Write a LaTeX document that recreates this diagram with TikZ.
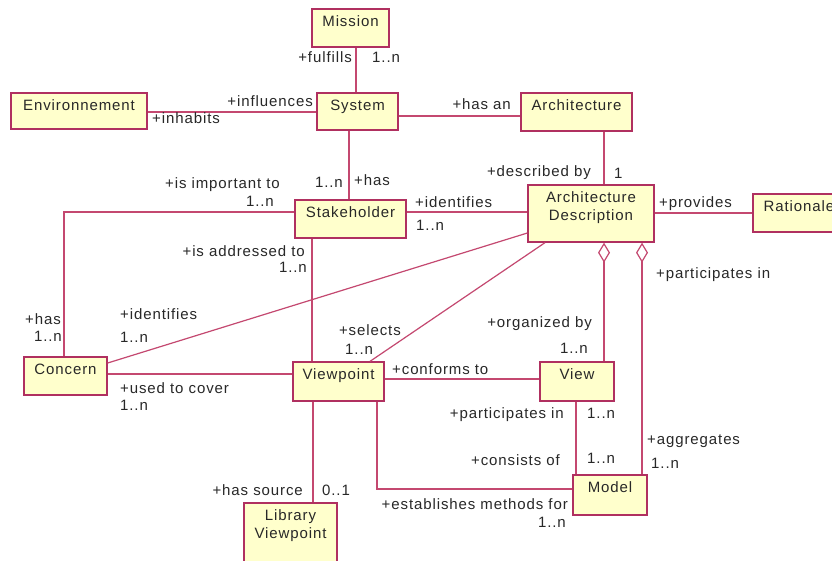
\documentclass[tikz,border=0pt]{standalone}
\usepackage{fontspec}
\setmainfont{Liberation Sans}[LetterSpace=6]
\usetikzlibrary{arrows.meta}
\definecolor{boxfill}{RGB}{255,255,204}
\definecolor{boxc}{RGB}{176,48,96}
\definecolor{linec}{RGB}{196,72,112}
\definecolor{txtc}{RGB}{40,40,40}
\begin{document}
\begin{tikzpicture}[x=1pt,y=-1pt,
  box/.style={draw=boxc, fill=boxfill, line width=1.3pt, inner sep=0pt},
  title/.style={anchor=north, inner sep=0pt, text=txtc, font=\fontsize{15}{18}\selectfont, align=center},
  lbl/.style={inner sep=0pt, text=txtc, font=\fontsize{15}{18}\selectfont, text height=11pt, text depth=3pt},
  conn/.style={draw=linec, line width=1.2pt},
  agg/.style={conn, {Diamond[open, fill=white, length=20pt, width=12pt]}-}]
\useasboundingbox (0,0) rectangle (832,560);
\clip (0,0) rectangle (832,560);
\fill[white] (0,0) rectangle (832,560);

% boxes
\node[box, minimum width=77pt, minimum height=38pt] (mission) at (350.5,28) {};
\node[box, minimum width=136pt, minimum height=36pt] (env) at (79,111) {};
\node[box, minimum width=81pt, minimum height=37pt] (system) at (357.5,111.5) {};
\node[box, minimum width=111pt, minimum height=38pt] (arch) at (576.5,112) {};
\node[box, minimum width=126pt, minimum height=57pt] (ad) at (591,213.5) {};
\node[box, minimum width=92pt, minimum height=38pt] (rat) at (799,213) {};
\node[box, minimum width=111pt, minimum height=38pt] (stake) at (350.5,219) {};
\node[box, minimum width=83pt, minimum height=38pt] (concern) at (65.5,376) {};
\node[box, minimum width=91pt, minimum height=39pt] (vp) at (338.5,381.5) {};
\node[box, minimum width=93pt, minimum height=60pt] (lib) at (290.5,533) {};
\node[box, minimum width=74pt, minimum height=39pt] (view) at (577,381.5) {};
\node[box, minimum width=74pt, minimum height=40pt] (model) at (610,495) {};

% box titles
\node[title] (missiont) at ([yshift=-7pt]mission.north) {Mission};
\node[title] (envt) at ([yshift=-7pt]env.north) {Environnement};
\node[title] (systemt) at ([yshift=-7pt]system.north) {System};
\node[title] (archt) at ([yshift=-7pt]arch.north) {Architecture};
\node[title] (adt) at ([yshift=-7pt]ad.north) {Architecture\\Description};
\node[title] (ratt) at ([yshift=-7pt]rat.north) {Rationale};
\node[title] (staket) at ([yshift=-7pt]stake.north) {Stakeholder};
\node[title] (concernt) at ([yshift=-7pt]concern.north) {Concern};
\node[title] (vpt) at ([yshift=-7pt]vp.north) {Viewpoint};
\node[title] (libt) at ([yshift=-7pt]lib.north) {Library\\Viewpoint};
\node[title] (viewt) at ([yshift=-7pt]view.north) {View};
\node[title] (modelt) at ([yshift=-7pt]model.north) {Model};

% connectors
\draw[conn] (mission.south -| 356,0) -- (system.north -| 356,0);
\draw[conn] (env.east |- 0,112) -- (system.west |- 0,112);
\draw[conn] (system.east |- 0,116) -- (arch.west |- 0,116);
\draw[conn] (system.south -| 349,0) -- (stake.north -| 349,0);
\draw[conn] (arch.south -| 604,0) -- (ad.north -| 604,0);
\draw[conn] (stake.east |- 0,212) -- (ad.west |- 0,212);
\draw[conn] (ad.east |- 0,213) -- (rat.west |- 0,213);
\draw[conn] (stake.west |- 0,212) -| (concern.north -| 64,0);
\draw[conn] (stake.south -| 312,0) -- (vp.north -| 312,0);
\draw[conn] (concern.east |- 0,363) -- (ad.west |- 0,233);
\draw[conn] (vp.north -| 370,0) -- (ad.south -| 545,0);
\draw[conn] (concern.east |- 0,374) -- (vp.west |- 0,374);
\draw[conn] (vp.east |- 0,379) -- (view.west |- 0,379);
\draw[agg] (ad.south -| 604,0) -- (view.north -| 604,0);
\draw[agg] (ad.south -| 642,0) -- (model.north -| 642,0);
\draw[conn] (view.south -| 576,0) -- (model.north -| 576,0);
\draw[conn] (vp.south -| 377,0) |- (model.west |- 0,489);
\draw[conn] (vp.south -| 313,0) -- (lib.north -| 313,0);

% labels
\node[lbl, anchor=east] (l1) at (352,58) {+fulfills};
\node[lbl, anchor=west] (l2) at (372,58) {1..n};
\node[lbl, anchor=east] (l3) at (313,102) {+influences};
\node[lbl, anchor=west] (l4) at (152,119) {+inhabits};
\node[lbl, anchor=east] (l5) at (511,105) {+has an};
\node[lbl, anchor=east] (l6) at (591,172) {+described by};
\node[lbl, anchor=west] (l7) at (614,174) {1};
\node[lbl, anchor=east] (l8) at (280,184) {+is important to};
\node[lbl, anchor=east] (l9) at (274,202) {1..n};
\node[lbl, anchor=east] (l10) at (343,183) {1..n};
\node[lbl, anchor=west] (l11) at (354,181) {+has};
\node[lbl, anchor=west] (l12) at (415,203) {+identifies};
\node[lbl, anchor=west] (l13) at (416,226) {1..n};
\node[lbl, anchor=west] (l14) at (659,203) {+provides};
\node[lbl, anchor=east] (l15) at (305,252) {+is addressed to};
\node[lbl, anchor=east] (l16) at (307,268) {1..n};
\node[lbl, anchor=west] (l17) at (656,274) {+participates in};
\node[lbl, anchor=west] (l18) at (25,320) {+has};
\node[lbl, anchor=east] (l19) at (62,337) {1..n};
\node[lbl, anchor=west] (l20) at (120,315) {+identifies};
\node[lbl, anchor=west] (l21) at (120,338) {1..n};
\node[lbl, anchor=east] (l22) at (401,331) {+selects};
\node[lbl, anchor=west] (l23) at (345,350) {1..n};
\node[lbl, anchor=east] (l24) at (592,323) {+organized by};
\node[lbl, anchor=east] (l25) at (588,349) {1..n};
\node[lbl, anchor=west] (l26) at (392,370) {+conforms to};
\node[lbl, anchor=west] (l27) at (120,389) {+used to cover};
\node[lbl, anchor=west] (l28) at (120,406) {1..n};
\node[lbl, anchor=east] (l29) at (564,414) {+participates in};
\node[lbl, anchor=west] (l30) at (587,414) {1..n};
\node[lbl, anchor=west] (l31) at (647,440) {+aggregates};
\node[lbl, anchor=west] (l32) at (651,464) {1..n};
\node[lbl, anchor=east] (l33) at (560,461) {+consists of};
\node[lbl, anchor=west] (l34) at (587,459) {1..n};
\node[lbl, anchor=east] (l35) at (568,505) {+establishes methods for};
\node[lbl, anchor=east] (l36) at (566,523) {1..n};
\node[lbl, anchor=east] (l37) at (303,491) {+has source};
\node[lbl, anchor=west] (l38) at (322,491) {0..1};
\end{tikzpicture}
\end{document}
